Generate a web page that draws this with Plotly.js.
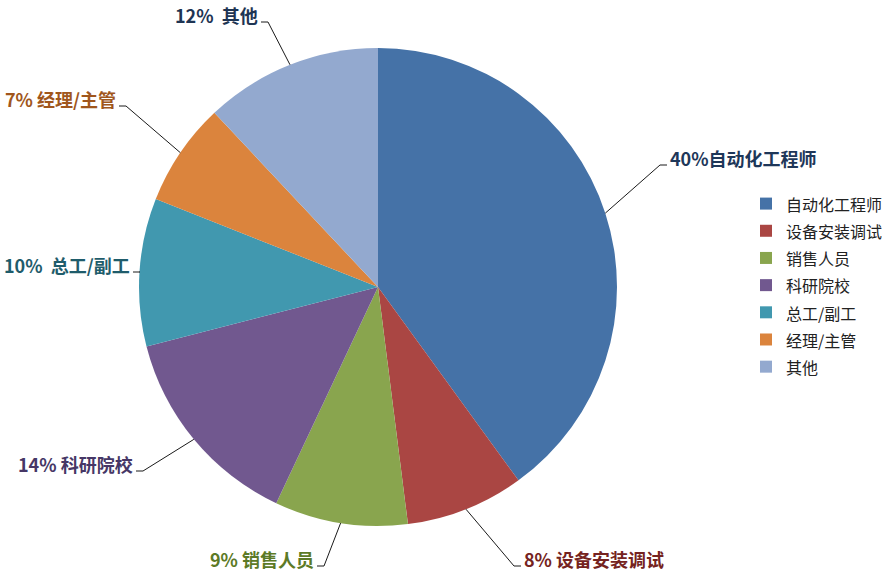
<!DOCTYPE html>
<html>
<head>
<meta charset="utf-8">
<script src="https://cdn.plot.ly/plotly-3.0.1.min.js"></script>
<style>html,body{margin:0;padding:0;background:#fff}#chart{width:888px;height:576px}</style>
</head>
<body>
<div id="chart"></div>
<script>
// ---- data ----
const labels = ['自动化工程师', '设备安装调试', '销售人员', '科研院校', '总工/副工', '经理/主管', '其他'];
const values = [40, 8, 9, 14, 10, 7, 12];

// ---- styles / positions ----
const colors = ['#4572A7', '#AA4643', '#89A54E', '#71588F', '#4198AF', '#DB843D', '#93A9CF'];
const labelColors = ['#1E3759', '#752320', '#5C7A26', '#463766', '#1F5C6B', '#A0561C', '#1E3453'];
// gap between percentage and name in each outside label
const gaps = ['', ' ', ' ', ' ', '\u00a0 ', ' ', '\u00a0 '];
// elbow point of each leader line (pixels) and side of its label
const elbows = [[660, 165, 'r'], [514, 566, 'r'], [324, 566, 'l'], [143, 471, 'l'], [140, 272, 'l'], [126, 106, 'l'], [268, 22, 'l']];

const W = 888, H = 576;
const cx = 378, cy = 287, R = 239;
const px = x => x / W, py = y => 1 - y / H;

const total = values.reduce((a, b) => a + b, 0);
let cum = 0;
const annotations = [], shapes = [];
values.forEach((v, i) => {
  const mid = (cum + v / 2) / total * 2 * Math.PI;
  cum += v;
  const ex = cx + R * Math.sin(mid), ey = cy - R * Math.cos(mid);
  const [lx, ly, side] = elbows[i];
  const tx = side === 'r' ? lx + 7 : lx - 7;
  shapes.push({
    type: 'path', xref: 'paper', yref: 'paper',
    path: `M ${px(ex)} ${py(ey)} L ${px(lx)} ${py(ly)} L ${px(tx)} ${py(ly)}`,
    line: {color: '#1a1a1a', width: 1}
  });
  const pct = Math.round(v / total * 100) + '%';
  annotations.push({
    xref: 'paper', yref: 'paper',
    x: px(side === 'r' ? tx + 1 : tx - 1), y: py(ly - 7),
    xanchor: side === 'r' ? 'left' : 'right', yanchor: 'middle',
    showarrow: false,
    text: '<b>' + pct + gaps[i] + labels[i] + '</b>',
    font: {family: '"Noto Sans CJK SC", "Noto Sans", sans-serif', size: 18, color: labelColors[i]}
  });
});

const legendLabels = labels.map(l => '<span style="font-size:16px">' + l + '</span>');

const trace = {
  type: 'pie',
  labels: legendLabels,
  values: values,
  sort: false,
  direction: 'clockwise',
  rotation: 0,
  textinfo: 'none',
  hoverinfo: 'label+percent',
  marker: {colors: colors, line: {width: 0}},
  domain: {x: [px(cx - R), px(cx + R)], y: [py(cy + R), py(cy - R)]}
};

const layout = {
  width: W, height: H,
  margin: {l: 0, r: 0, t: 0, b: 0},
  paper_bgcolor: '#ffffff',
  showlegend: true,
  legend: {
    x: px(746), y: py(185), xanchor: 'left', yanchor: 'top',
    font: {family: '"Noto Sans CJK SC", sans-serif', size: 18.6, color: '#222'},
    bgcolor: 'rgba(0,0,0,0)'
  },
  annotations: annotations,
  shapes: shapes
};

Plotly.newPlot('chart', [trace], layout, {displayModeBar: false, staticPlot: true});
</script>
</body>
</html>
